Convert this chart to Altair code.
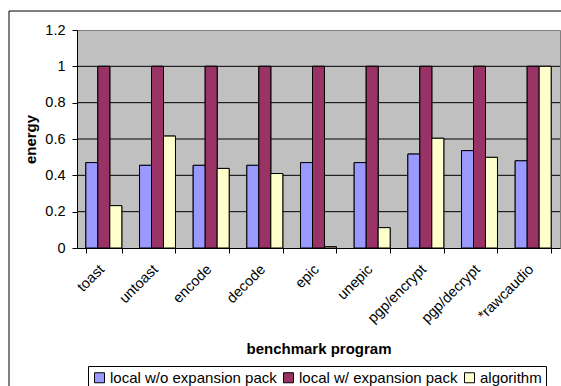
import altair as alt
import pandas as pd

programs = ["toast", "untoast", "encode", "decode", "epic", "unepic",
            "pgp/encrypt", "pgp/decrypt", "*rawcaudio"]
series = ["local w/o expansion pack", "local w/ expansion pack", "algorithm"]
local_without = [0.47, 0.455, 0.455, 0.455, 0.47, 0.47, 0.517, 0.536, 0.48]
local_with = [1.0, 1.0, 1.0, 1.0, 1.0, 1.0, 1.0, 1.0, 1.0]
algorithm = [0.233, 0.616, 0.438, 0.41, 0.007, 0.112, 0.604, 0.499, 1.0]
colors = ["#9999FF", "#993366", "#FFFFCC"]
y_ticks = [0, 0.2, 0.4, 0.6, 0.8, 1.0, 1.2]
grid_values = [0.2, 0.4, 0.6, 0.8, 1.0]

rows = []
for name, vals in zip(series, [local_without, local_with, algorithm]):
    for p, v in zip(programs, vals):
        rows.append({"program": p, "series": name, "energy": v})
df = pd.DataFrame(rows)

FONT = "Liberation Sans"
W, H = 483, 218

y_scale = alt.Scale(domain=[0, 1.2], nice=False)
y_axis = alt.Axis(
    title="energy",
    values=y_ticks,
    format="~g",
    grid=False,
    labelOverlap=False,
    labelFont=FONT,
    labelFontSize=14.5,
    labelColor="black",
    labelPadding=7,
    tickSize=5,
    tickColor="black",
    domainColor="black",
    titleFont=FONT,
    titleFontSize=15,
    titleFontWeight="bold",
    titleColor="black",
    titleX=-47,
    titleBaseline="middle",
)

x_enc = alt.X(
    "program:N",
    sort=programs,
    scale=alt.Scale(paddingInner=0.33, paddingOuter=0.165),
    axis=alt.Axis(
        title="benchmark program",
        labelAngle=-45,
        labelFont=FONT,
        labelFontSize=14.5,
        labelColor="black",
        labelPadding=9,
        labelOffset=-7,
        tickBand="extent",
        tickSize=5,
        tickColor="black",
        domainColor="black",
        titleFont=FONT,
        titleFontSize=15,
        titleFontWeight="bold",
        titleColor="black",
        titleY=100,
        titleBaseline="middle",
    ),
)

bars = alt.Chart(df).mark_bar(stroke="black", strokeWidth=1).encode(
    x=x_enc,
    xOffset=alt.XOffset("series:N", sort=series,
                        scale=alt.Scale(paddingInner=0, paddingOuter=0)),
    y=alt.Y("energy:Q", scale=y_scale, axis=y_axis),
    color=alt.Color(
        "series:N",
        sort=series,
        scale=alt.Scale(domain=series, range=colors),
        legend=alt.Legend(
            title=None,
            orient="none",
            direction="horizontal",
            legendX=11,
            legendY=336,
            symbolType="square",
            symbolSize=100,
            symbolStrokeColor="black",
            symbolStrokeWidth=1,
            labelFont=FONT,
            labelFontSize=15,
            labelColor="black",
            labelOffset=3,
            labelLimit=0,
            columnPadding=4,
            strokeColor="black",
            padding=4,
        ),
    ),
)

# horizontal gridlines; the bars are layered again on top so they hide the lines
grid = alt.Chart(pd.DataFrame({"v": grid_values})).mark_rule(
    stroke="black", strokeWidth=1
).encode(
    y=alt.Y("v:Q", scale=y_scale, axis=y_axis),
)

# outer frame around the whole figure
frame = alt.Chart(pd.DataFrame({"k": [0]})).mark_rect(
    fill="transparent", stroke="black", strokeWidth=1
).encode(
    x=alt.value(-68), x2=alt.value(560), y=alt.value(-19), y2=alt.value(400)
)

chart = alt.layer(bars, grid, bars, frame).properties(
    width=W,
    height=H,
    padding={"left": 77, "top": 30, "right": 1, "bottom": 138},
    autosize=alt.AutoSizeParams(type="none"),
    background="white",
).configure_view(fill="#C0C0C0", stroke="#808080", strokeWidth=1)

chart.save("out.html", embed_options={"renderer": "svg", "actions": False})
